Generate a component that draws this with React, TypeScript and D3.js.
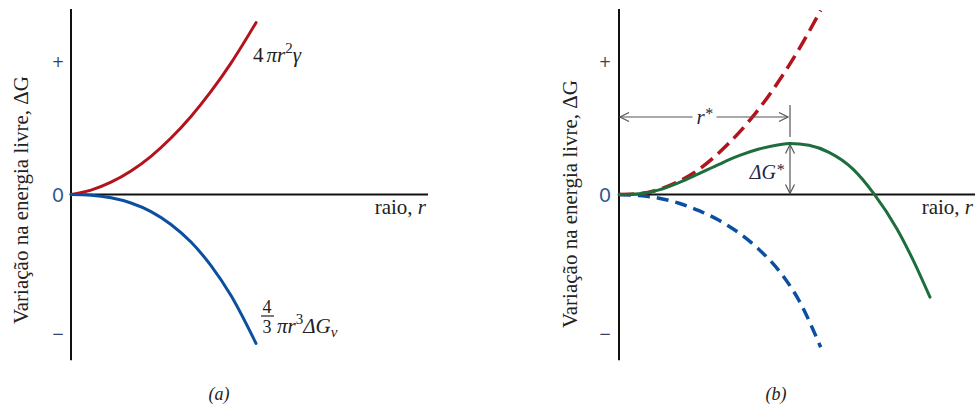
import React from 'react';
import * as d3 from 'd3';

// Panel (a): surface term and volume term (r in arbitrary units, ΔG in tick units)
const rA = [0, 0.2, 0.4, 0.6, 0.8, 1.0, 1.2, 1.4, 1.6, 1.85];
const surfaceA = [0, 0.033, 0.093, 0.177, 0.288, 0.426, 0.589, 0.778, 0.992, 1.297];
const volumeA = [0, -0.005, -0.025, -0.064, -0.129, -0.226, -0.359, -0.537, -0.763, -1.124];

// Panel (b)
const rB = [0, 0.2, 0.4, 0.6, 0.8, 1.0, 1.2, 1.4, 1.6, 1.8, 2.017];
const surfaceB = [0, 0.006, 0.038, 0.1, 0.19, 0.315, 0.467, 0.647, 0.858, 1.097, 1.39];
const volumeB = [0, -0.008, -0.028, -0.066, -0.122, -0.195, -0.29, -0.415, -0.575, -0.8, -1.153];
const rTotal = [0, 0.2, 0.4, 0.6, 0.8, 1.0, 1.2, 1.4, 1.6, 1.71, 1.9, 2.1, 2.34, 2.55, 2.78, 2.94, 3.11];
const totalB = [0, 0.006, 0.035, 0.09, 0.158, 0.228, 0.293, 0.343, 0.376, 0.385, 0.371, 0.318, 0.192, 0.005, -0.26, -0.493, -0.775];

const tickValues = [1, 0, -1.05];
const tickLabels = ['+', '0', '−'];
const rCritical = 1.71;
const dGCritical = 0.385;
const rStarLevel = 0.585;
const yTop = 1.4;
const yBottom = -1.25;
const xEndA = 3.57;
const xEndB = 3.56;

const RED = '#b3131d';
const BLUE = '#0b4fa0';
const GREEN = '#1d6e3c';
const SERIF = '"Liberation Serif", "Times New Roman", serif';
const SANS = '"DejaVu Sans", "Noto Sans", sans-serif';
const SANS0 = '"Lato", "Open Sans", sans-serif';

const y = d3.scaleLinear().domain([0, 1]).range([194.5, 62]);
const xA = d3.scaleLinear().domain([0, 1]).range([71, 171]);
const xB = d3.scaleLinear().domain([0, 1]).range([619, 719]);

function lineFor(xs: number[], ys: number[], xScale: d3.ScaleLinear<number, number>) {
  const gen = d3
    .line<number>()
    .x((_, i) => xScale(xs[i]))
    .y((d) => y(d))
    .curve(d3.curveMonotoneX);
  return gen(ys) || '';
}

function chevron(tx: number, ty: number, dx: number, dy: number) {
  // open arrowhead, tip at (tx,ty), pointing along (dx,dy)
  const L = 9, W = 4.5;
  const px = -dy, py = dx;
  const bx = tx - dx * L, by = ty - dy * L;
  return `M${bx + px * W},${by + py * W}L${tx},${ty}L${bx - px * W},${by - py * W}`;
}

function Axes({ xScale, xEnd, tickX, labelX, labelY }: any) {
  return (
    <g>
      <line x1={xScale(0)} x2={xScale(0)} y1={y(yTop)} y2={y(yBottom)} stroke="#111" strokeWidth={2} />
      <line x1={xScale(0)} x2={xScale(xEnd)} y1={y(0)} y2={y(0)} stroke="#111" strokeWidth={2} />
      {tickValues.map((v, i) => (
        <text
          key={i}
          x={tickX}
          y={y(v)}
          textAnchor="middle"
          dominantBaseline="central"
          fontFamily={i === 1 ? SANS0 : SANS}
          fontSize={i === 1 ? 19 : 15}
          fill={i === 1 ? '#2c5590' : '#354260'}
        >
          {tickLabels[i]}
        </text>
      ))}
      <text
        transform={`translate(${labelX},${labelY}) rotate(-90)`}
        textAnchor="middle"
        dominantBaseline="central"
        fontFamily={SERIF}
        fontSize={21}
        fill="#222"
      >
        Variação na energia livre, ΔG
      </text>
      <text x={xScale(xEnd) - 2} y={214} textAnchor="end" fontFamily={SERIF} fontSize={21} fill="#222">
        raio, <tspan fontStyle="italic">r</tspan>
      </text>
    </g>
  );
}

export default function App() {
  const xc = xB(rCritical);
  const arrowY = y(rStarLevel);
  const mid = (xB(0) + xc) / 2;
  return (
    <svg width={975} height={407} style={{ position: 'absolute', left: 0, top: 0, background: '#fff' }}>
      {/* Panel (a) */}
      <Axes xScale={xA} xEnd={xEndA} tickX={58} labelX={21} labelY={200} />
      <path d={lineFor(rA, surfaceA, xA)} fill="none" stroke={RED} strokeWidth={3} strokeLinecap="round" />
      <path d={lineFor(rA, volumeA, xA)} fill="none" stroke={BLUE} strokeWidth={3} strokeLinecap="round" />
      <text x={253} y={62} fontFamily={SERIF} fontSize={21} fill="#222">
        4<tspan fontStyle="italic" dx={3}>π</tspan>
        <tspan fontStyle="italic">r</tspan>
        <tspan fontSize={15} dy={-9}>2</tspan>
        <tspan fontStyle="italic" dy={9}>γ</tspan>
      </text>
      <text x={267} y={313} textAnchor="middle" fontFamily={SERIF} fontSize={18} fill="#222">4</text>
      <line x1={261} x2={274} y1={316} y2={316} stroke="#222" strokeWidth={1.2} />
      <text x={267} y={333} textAnchor="middle" fontFamily={SERIF} fontSize={18} fill="#222">3</text>
      <text x={277} y={333} fontFamily={SERIF} fontSize={21} fill="#222">
        <tspan fontStyle="italic">π</tspan>
        <tspan fontStyle="italic">r</tspan>
        <tspan fontSize={15} dy={-9}>3</tspan>
        <tspan fontStyle="italic" dy={9}>ΔG</tspan>
        <tspan fontStyle="italic" fontSize={15} dy={4}>v</tspan>
      </text>
      <text x={219} y={400} textAnchor="middle" fontFamily={SERIF} fontStyle="italic" fontSize={18} fill="#222">(a)</text>

      {/* Panel (b) */}
      <Axes xScale={xB} xEnd={xEndB} tickX={605} labelX={570} labelY={204} />
      <path d={lineFor(rB, volumeB, xB)} fill="none" stroke={BLUE} strokeWidth={3.5} strokeDasharray="12,7" />
      <path d={lineFor(rB, surfaceB, xB)} fill="none" stroke={RED} strokeWidth={3.5} strokeDasharray="15,7" />
      <path d={lineFor(rTotal, totalB, xB)} fill="none" stroke={GREEN} strokeWidth={3} strokeLinecap="round" />

      {/* r* annotation */}
      <line x1={xB(0) + 1} x2={mid - 12} y1={arrowY} y2={arrowY} stroke="#555" strokeWidth={1.2} />
      <line x1={mid + 12} x2={xc - 2} y1={arrowY} y2={arrowY} stroke="#555" strokeWidth={1.2} />
      <path d={chevron(xB(0) + 1, arrowY, -1, 0)} fill="none" stroke="#555" strokeWidth={1.2} />
      <path d={chevron(xc - 2, arrowY, 1, 0)} fill="none" stroke="#555" strokeWidth={1.2} />
      <line x1={xc} x2={xc} y1={arrowY - 12} y2={arrowY + 20} stroke="#555" strokeWidth={1.2} />
      <text x={mid} y={arrowY} textAnchor="middle" dominantBaseline="central" fontFamily={SERIF} fontStyle="italic" fontSize={21} fill="#1c2744">
        r<tspan fontSize={16} dy={-4}>*</tspan>
      </text>

      {/* ΔG* annotation */}
      <line x1={xc} x2={xc} y1={y(dGCritical) + 1} y2={y(0) - 1} stroke="#555" strokeWidth={1.2} />
      <path d={chevron(xc, y(dGCritical) + 1, 0, -1)} fill="none" stroke="#555" strokeWidth={1.2} />
      <path d={chevron(xc, y(0) - 1, 0, 1)} fill="none" stroke="#555" strokeWidth={1.2} />
      <text x={xc - 6} y={(y(dGCritical) + y(0)) / 2 + 3} textAnchor="end" dominantBaseline="central" fontFamily={SERIF} fontStyle="italic" fontSize={20} fill="#1c2744">
        ΔG<tspan fontSize={16} dy={-3}>*</tspan>
      </text>
      <text x={776} y={400} textAnchor="middle" fontFamily={SERIF} fontStyle="italic" fontSize={18} fill="#222">(b)</text>
    </svg>
  );
}
